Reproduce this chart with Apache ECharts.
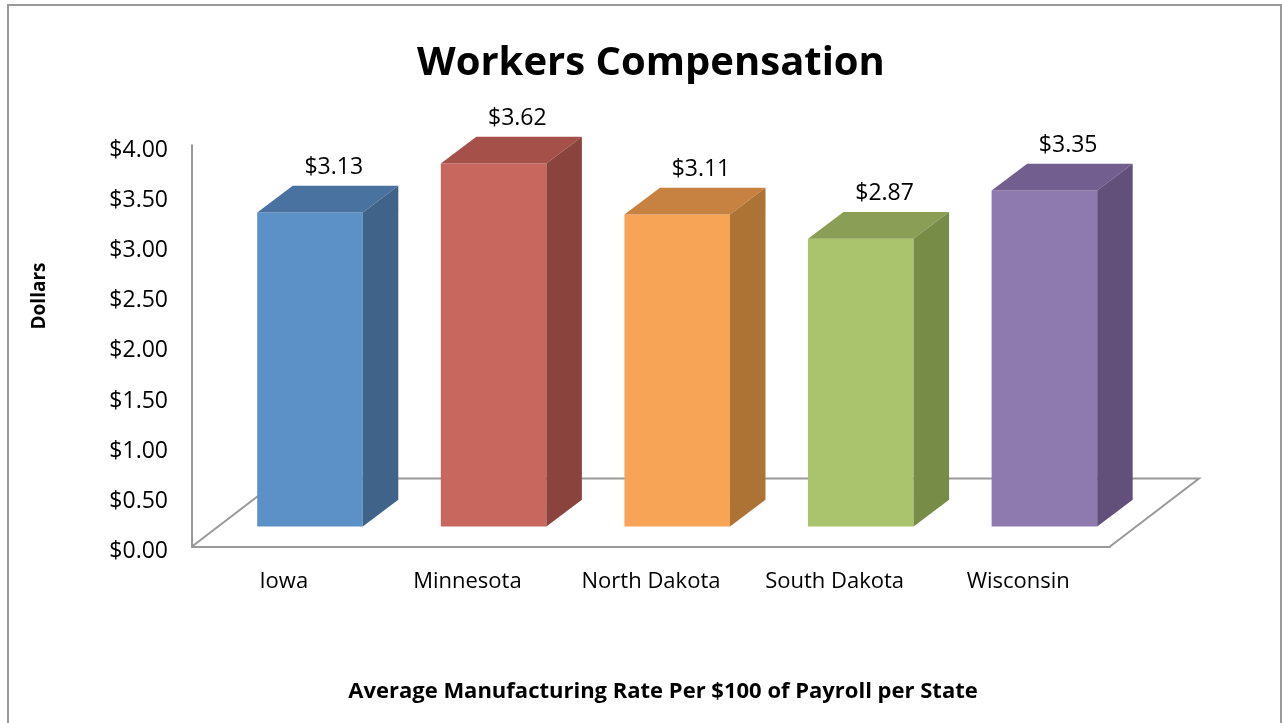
<!DOCTYPE html>
<html>
<head>
<meta charset="utf-8">
<script src="https://cdn.jsdelivr.net/npm/echarts@6/dist/echarts.min.js"></script>
<style>
  html, body { margin: 0; padding: 0; background: #fff; }
  #chart { width: 1282px; height: 723px; }
</style>
</head>
<body>
<div id="chart"></div>
<script>
var states = ['Iowa', 'Minnesota', 'North Dakota', 'South Dakota', 'Wisconsin'];
var rates = [3.13, 3.62, 3.11, 2.87, 3.35];
var yTicks = [0, 0.5, 1, 1.5, 2, 2.5, 3, 3.5, 4];

// face colours per bar: front, top, side
var faceColors = [
    ['#5B91C6', '#4A72A0', '#3F6389'],
    ['#C8675D', '#A5514A', '#8A433D'],
    ['#F8A457', '#C78140', '#AD7335'],
    ['#A9C46D', '#8A9F55', '#778C46'],
    ['#8F7AB0', '#735F8F', '#624F7A']
];

// oblique projection: floor depth, and where the bar sits inside it
var FLOOR = [89, -68];
var FRONT = [26.2, -20];
var DEPTH = [35.5, -26.7];

function renderBar(params, api) {
    var i = api.value(0);
    var v = api.value(1);
    var base = api.coord([i, 0]);
    var top = api.coord([i, v]);
    var w = api.size([1, 0])[0] * 0.575;
    var cx = base[0] + FRONT[0];
    var x0 = cx - w / 2, x1 = cx + w / 2;
    var yb = base[1] + FRONT[1], yt = top[1] + FRONT[1];
    var dx = DEPTH[0], dy = DEPTH[1];
    var c = faceColors[params.dataIndex];
    return {
        type: 'group',
        children: [
            { type: 'polygon', shape: { points: [[x0, yb], [x1, yb], [x1, yt], [x0, yt]] }, style: { fill: c[0] } },
            { type: 'polygon', shape: { points: [[x0, yt], [x1, yt], [x1 + dx, yt + dy], [x0 + dx, yt + dy]] }, style: { fill: c[1] } },
            { type: 'polygon', shape: { points: [[x1, yb], [x1 + dx, yb + dy], [x1 + dx, yt + dy], [x1, yt]] }, style: { fill: c[2] } },
            {
                type: 'text',
                x: cx + dx / 2 + 6,
                y: yt + dy - 18,
                style: {
                    text: '$' + v.toFixed(2),
                    fontFamily: 'Open Sans',
                    fontSize: 23,
                    fill: '#000',
                    align: 'center',
                    verticalAlign: 'middle'
                }
            }
        ]
    };
}

function renderFloor(params, api) {
    var g = params.coordSys;
    var bx = g.x, by = g.y + g.height, r = g.x + g.width;
    return {
        type: 'polyline',
        shape: { points: [[r, by], [r + FLOOR[0], by + FLOOR[1]], [bx + FLOOR[0], by + FLOOR[1]], [bx, by]] },
        style: { stroke: '#999', lineWidth: 2, fill: null }
    };
}

var myChart = echarts.init(document.getElementById('chart'));

var option = {
    animation: false,
    backgroundColor: '#fff',
    title: {
        text: 'Workers Compensation',
        left: 412,
        top: 39,
        textStyle: { fontFamily: 'Open Sans', fontWeight: 'bold', fontSize: 40, color: '#000' }
    },
    grid: { left: 192, right: 172, top: 145.3, bottom: 176.5 },
    xAxis: {
        type: 'category',
        data: states,
        axisLine: { lineStyle: { color: '#999', width: 2 } },
        axisTick: { show: false },
        axisLabel: {
            interval: 0,
            hideOverlap: false,
            margin: 24,
            fontFamily: 'Open Sans',
            fontSize: 22,
            color: '#000'
        }
    },
    yAxis: {
        type: 'value',
        min: yTicks[0],
        max: yTicks[yTicks.length - 1],
        interval: 0.5,
        splitLine: { show: false },
        axisLine: { show: true, lineStyle: { color: '#999', width: 2 } },
        axisTick: { show: false },
        axisLabel: {
            margin: 24,
            fontFamily: 'Open Sans',
            fontSize: 23,
            color: '#000',
            verticalAlign: 'top',
            lineHeight: 10,
            formatter: function (v) { return '$' + v.toFixed(2); }
        }
    },
    graphic: [
        {
            type: 'rect',
            shape: { x: 8, y: 5, width: 1273, height: 740 },
            style: { stroke: '#999', lineWidth: 2, fill: null },
            silent: true
        },
        {
            type: 'text',
            x: 40, y: 296,
            rotation: Math.PI / 2,
            style: {
                text: 'Dollars',
                fontFamily: 'Open Sans', fontWeight: 'bold', fontSize: 19, fill: '#000',
                align: 'center', verticalAlign: 'middle'
            }
        },
        {
            type: 'text',
            x: 663, y: 692,
            style: {
                text: 'Average Manufacturing Rate Per $100 of Payroll per State',
                fontFamily: 'Open Sans', fontWeight: 'bold', fontSize: 22, fill: '#000',
                align: 'center', verticalAlign: 'middle'
            }
        }
    ],
    series: [
        {
            type: 'custom',
            renderItem: renderFloor,
            data: [[0, 0]],
            silent: true,
            z: 1
        },
        {
            type: 'custom',
            renderItem: renderBar,
            encode: { x: 0, y: 1 },
            data: rates.map(function (v, i) { return [i, v]; }),
            z: 3
        }
    ]
};

myChart.setOption(option);
</script>
</body>
</html>
